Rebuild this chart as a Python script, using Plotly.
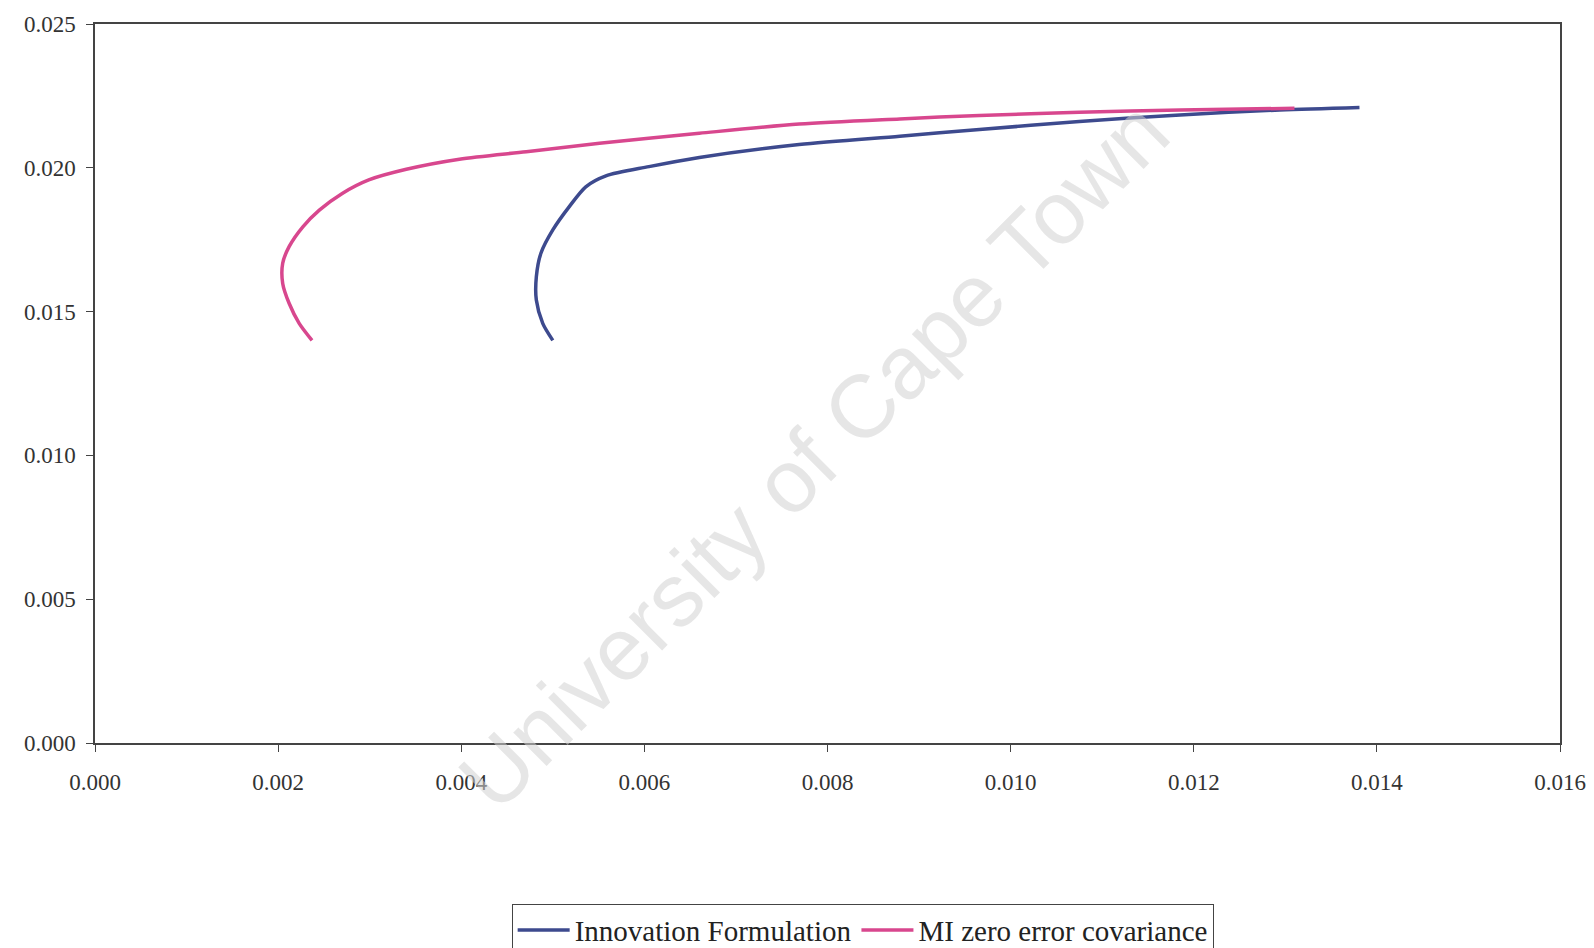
import plotly.graph_objects as go

# Data (in units of 1e-3)
innov_x = [5.00, 4.89, 4.82, 4.82, 4.87, 5.00, 5.18, 5.36, 5.58, 6.05, 6.60, 7.69, 8.79, 9.66, 10.75, 11.85, 12.94, 13.81]
innov_y = [14.00, 14.59, 15.40, 16.21, 17.03, 17.84, 18.65, 19.34, 19.72, 20.04, 20.36, 20.81, 21.10, 21.33, 21.61, 21.84, 22.01, 22.10]

mi_x = [2.37, 2.23, 2.12, 2.05, 2.05, 2.12, 2.27, 2.45, 2.70, 2.99, 3.40, 3.98, 4.71, 5.51, 6.60, 7.69, 8.79, 9.66, 10.75, 11.85, 13.10]
mi_y = [14.00, 14.59, 15.29, 15.98, 16.68, 17.26, 17.95, 18.53, 19.11, 19.58, 19.95, 20.30, 20.56, 20.85, 21.20, 21.52, 21.70, 21.82, 21.93, 22.01, 22.07]

x_ticks = [0.000, 0.002, 0.004, 0.006, 0.008, 0.010, 0.012, 0.014, 0.016]
y_ticks = [0.000, 0.005, 0.010, 0.015, 0.020, 0.025]

series_names = ["Innovation Formulation", "MI zero error covariance"]

scale = 1e-3
fig = go.Figure()
fig.add_trace(go.Scatter(
    x=[v * scale for v in innov_x], y=[v * scale for v in innov_y],
    mode="lines", name=series_names[0],
    line=dict(color="#3d4a8e", width=3.5, shape="spline", smoothing=0.8),
))
fig.add_trace(go.Scatter(
    x=[v * scale for v in mi_x], y=[v * scale for v in mi_y],
    mode="lines", name=series_names[1],
    line=dict(color="#d8478e", width=3.5, shape="spline", smoothing=0.8),
))

tick_font = dict(family="Liberation Serif, Times New Roman, serif", size=23, color="#333333")

fig.update_layout(
    width=1594, height=948,
    margin=dict(l=95, r=34, t=24, b=205, autoexpand=False),
    paper_bgcolor="white", plot_bgcolor="white",
    showlegend=True,
    legend=dict(
        orientation="h",
        x=0.524, xanchor="center",
        y=-0.2235, yanchor="top",
        bgcolor="white", bordercolor="#444444", borderwidth=1,
        font=dict(family="Liberation Serif, Times New Roman, serif", size=29, color="#222222"),
        itemwidth=52,
        traceorder="normal",
    ),
    annotations=[dict(
        text="University of Cape Town",
        x=0.00785, y=0.0100, xref="x", yref="y",
        xanchor="center", yanchor="middle",
        textangle=-45, showarrow=False,
        font=dict(family="Liberation Sans, Arial, sans-serif", size=89, color="rgba(210,210,210,0.55)"),
    )],
)

fig.update_xaxes(
    range=[0, 0.016], tickvals=x_ticks, tickformat=".3f",
    showgrid=False, zeroline=False,
    showline=True, linecolor="#444444", linewidth=1.5, mirror=True,
    ticks="outside", ticklen=7, tickcolor="#444444", tickwidth=1.2,
    tickfont=tick_font, ticklabelstandoff=11,
)
fig.update_yaxes(
    range=[0, 0.025], tickvals=y_ticks, tickformat=".3f",
    showgrid=False, zeroline=False,
    showline=True, linecolor="#444444", linewidth=1.5, mirror=True,
    ticks="outside", ticklen=7, tickcolor="#444444", tickwidth=1.2,
    tickfont=tick_font, ticklabelstandoff=6,
)

fig.write_html("out.html")
